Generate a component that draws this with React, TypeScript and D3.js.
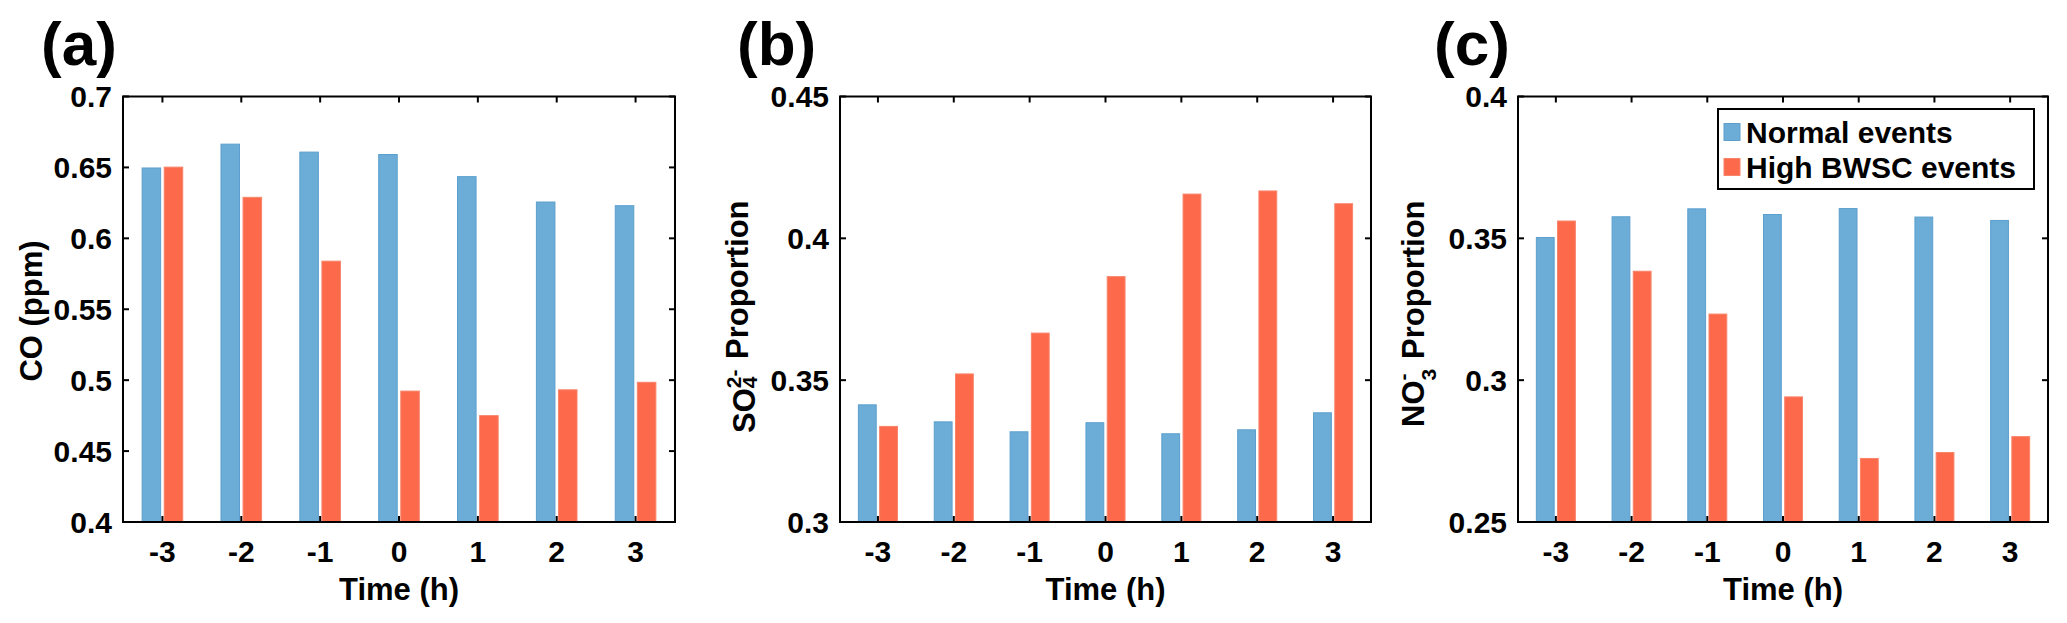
import * as d3 from "d3";

// hours relative to the event
const hours = [-3, -2, -1, 0, 1, 2, 3];

// (a) CO (ppm)
const coNormal = [0.6496, 0.6664, 0.6608, 0.6591, 0.6435, 0.6256, 0.623];
const coHigh = [0.6502, 0.6289, 0.5839, 0.4923, 0.475, 0.4932, 0.4985];
const coTicks = [0.4, 0.45, 0.5, 0.55, 0.6, 0.65, 0.7];

// (b) sulfate proportion
const so4Normal = [0.3413, 0.3353, 0.3318, 0.335, 0.3311, 0.3325, 0.3385];
const so4High = [0.3337, 0.3522, 0.3666, 0.3865, 0.4156, 0.4167, 0.4122];
const so4Ticks = [0.3, 0.35, 0.4, 0.45];

// (c) nitrate proportion
const no3Normal = [0.3503, 0.3576, 0.3604, 0.3584, 0.3605, 0.3575, 0.3563];
const no3High = [0.3561, 0.3384, 0.3233, 0.2941, 0.2724, 0.2745, 0.2801];
const no3Ticks = [0.25, 0.3, 0.35, 0.4];

const seriesNames = ["Normal events", "High BWSC events"];

const BLUE = "#6BADD6";
const BLUE_EDGE = "#5C9FCE";
const RED = "#FC694B";
const RED_EDGE = "#F8846A";
const FONT = "'Liberation Sans', Arial, Helvetica, sans-serif";

const TOP = 96.5;
const BOTTOM = 522;
const BAR_W = 0.235;
const BAR_OFF = 0.14;

type Panel = {
  tag: string;
  tagX: number;
  left: number;
  right: number;
  ticks: number[];
  normal: number[];
  high: number[];
  ylabel: JSX.Element;
};

function fmt(v: number) {
  return String(+v.toFixed(2));
}

function Axes({ p }: { p: Panel }) {
  const x = d3.scaleLinear().domain([-3.5, 3.5]).range([p.left, p.right]);
  const y = d3
    .scaleLinear()
    .domain([p.ticks[0], p.ticks[p.ticks.length - 1]])
    .range([BOTTOM, TOP]);
  const tl = 6;

  return (
    <g>
      <text x={p.tagX} y={65} fontSize={62} fontWeight="bold" fontFamily={FONT}>
        {p.tag}
      </text>

      {hours.map((h, i) => (
        <g key={h}>
          <rect
            x={x(h - BAR_OFF - BAR_W / 2)}
            y={y(p.normal[i])}
            width={x(BAR_W) - x(0)}
            height={BOTTOM - y(p.normal[i])}
            fill={BLUE}
            stroke={BLUE_EDGE}
            strokeWidth={1}
          />
          <rect
            x={x(h + BAR_OFF - BAR_W / 2)}
            y={y(p.high[i])}
            width={x(BAR_W) - x(0)}
            height={BOTTOM - y(p.high[i])}
            fill={RED}
            stroke={RED_EDGE}
            strokeWidth={1}
          />
        </g>
      ))}

      {/* box + inward ticks */}
      <rect
        x={p.left}
        y={TOP}
        width={p.right - p.left}
        height={BOTTOM - TOP}
        fill="none"
        stroke="#000"
        strokeWidth={2}
      />
      {hours.map((h) => (
        <g key={"xt" + h}>
          <line x1={x(h)} x2={x(h)} y1={BOTTOM} y2={BOTTOM - tl} stroke="#000" strokeWidth={2} />
          <line x1={x(h)} x2={x(h)} y1={TOP} y2={TOP + tl} stroke="#000" strokeWidth={2} />
          <text
            x={x(h)}
            y={562}
            textAnchor="middle"
            fontSize={30}
            fontWeight="bold"
            fontFamily={FONT}
          >
            {h}
          </text>
        </g>
      ))}
      {p.ticks.map((t) => (
        <g key={"yt" + t}>
          <line x1={p.left} x2={p.left + tl} y1={y(t)} y2={y(t)} stroke="#000" strokeWidth={2} />
          <line x1={p.right} x2={p.right - tl} y1={y(t)} y2={y(t)} stroke="#000" strokeWidth={2} />
          <text
            x={p.left - 11}
            y={y(t)}
            dy="0.36em"
            textAnchor="end"
            fontSize={30}
            fontWeight="bold"
            fontFamily={FONT}
          >
            {fmt(t)}
          </text>
        </g>
      ))}

      <text
        x={(p.left + p.right) / 2}
        y={600}
        textAnchor="middle"
        fontSize={31}
        fontWeight="bold"
        fontFamily={FONT}
      >
        Time (h)
      </text>
      {p.ylabel}
    </g>
  );
}

export default function App() {
  const labelProps = { fontSize: 31, fontWeight: "bold", fontFamily: FONT };

  const panels: Panel[] = [
    {
      tag: "(a)",
      tagX: 41,
      left: 123,
      right: 675,
      ticks: coTicks,
      normal: coNormal,
      high: coHigh,
      ylabel: (
        <text transform="translate(42,311) rotate(-90)" textAnchor="middle" {...labelProps}>
          CO (ppm)
        </text>
      ),
    },
    {
      tag: "(b)",
      tagX: 737,
      left: 840,
      right: 1371,
      ticks: so4Ticks,
      normal: so4Normal,
      high: so4High,
      ylabel: (
        <text transform="translate(755,433) rotate(-90)" {...labelProps}>
          <tspan>SO</tspan>
          <tspan fontSize={21} dy={2}>
            4
          </tspan>
          <tspan fontSize={21} dx={-11.7} dy={-16}>
            2-
          </tspan>
          <tspan dx={2} dy={7}> Proportion</tspan>
        </text>
      ),
    },
    {
      tag: "(c)",
      tagX: 1434,
      left: 1518,
      right: 2048,
      ticks: no3Ticks,
      normal: no3Normal,
      high: no3High,
      ylabel: (
        <text transform="translate(1424,427) rotate(-90)" {...labelProps}>
          <tspan>NO</tspan>
          <tspan fontSize={21} dy={12}>
            3
          </tspan>
          <tspan fontSize={21} dx={-11.7} dy={-26}>
            -
          </tspan>
          <tspan dx={6} dy={14}> Proportion</tspan>
        </text>
      ),
    },
  ];

  const colors = [BLUE, RED];
  const edges = [BLUE_EDGE, RED_EDGE];

  return (
    <div style={{ position: "absolute", left: 0, top: 0 }}>
      <svg width={2067} height={623} viewBox="0 0 2067 623" style={{ display: "block", background: "#fff" }}>
        <rect width={2067} height={623} fill="#fff" />
        {panels.map((p) => (
          <Axes key={p.tag} p={p} />
        ))}
        {/* legend in panel (c) */}
        <g>
          <rect x={1718} y={109} width={316} height={80} fill="#fff" stroke="#000" strokeWidth={2} />
          {seriesNames.map((name, i) => (
            <g key={name}>
              <rect
                x={1724}
                y={132 + i * 35 - 8.5}
                width={16}
                height={17}
                fill={colors[i]}
                stroke={edges[i]}
                strokeWidth={1}
              />
              <text
                x={1746}
                y={132 + i * 35}
                dy="0.36em"
                fontSize={30}
                fontWeight="bold"
                fontFamily={FONT}
              >
                {name}
              </text>
            </g>
          ))}
        </g>
      </svg>
    </div>
  );
}
